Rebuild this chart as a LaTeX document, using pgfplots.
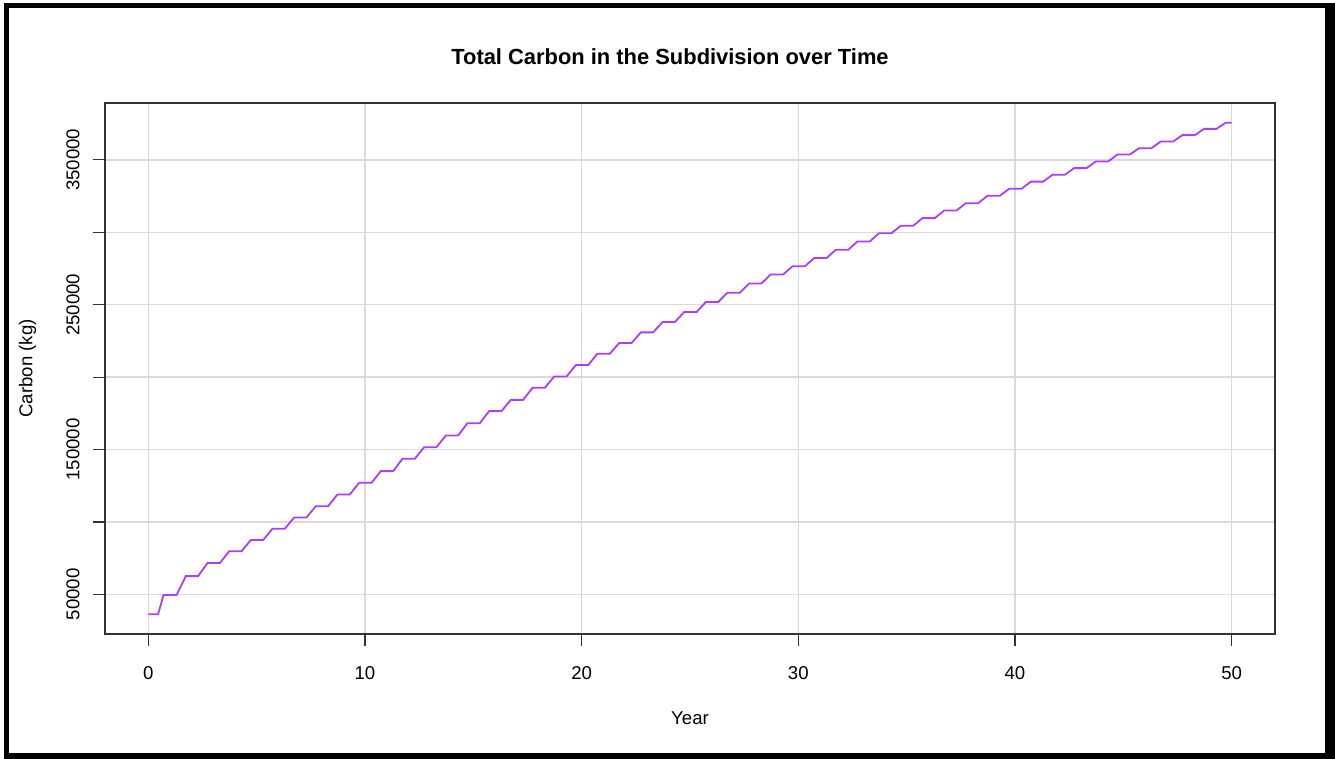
\documentclass[border=0pt]{standalone}
\usepackage{fontspec}
\setmainfont{Liberation Sans}
\usepackage{pgfplots}
\pgfplotsset{compat=1.18}
\definecolor{carbonline}{RGB}{172,62,245}
\definecolor{gridgray}{RGB}{218,218,218}

\begin{document}
\begin{tikzpicture}
% page 1335x759 px at 0.5pt per px
\path[use as bounding box] (0,0) rectangle (667.5pt,-379.5pt);
\fill[white] (0,0) rectangle (667.5pt,-379.5pt);
\fill[black] (2pt,-1.5pt) rectangle (667.5pt,-379.5pt);
\fill[white] (4.5pt,-4pt) rectangle (662.5pt,-376.5pt);

\begin{axis}[
  at={(52.5pt,-317pt)}, anchor=south west,
  scale only axis, width=585pt, height=265.5pt,
  xmin=-2, xmax=52, ymin=22620, ymax=389280,
  xtick={0,10,20,30,40,50}, xticklabels={0,10,20,30,40,50},
  ytick={50000,100000,150000,200000,250000,300000,350000},
  yticklabels={50000,{},150000,{},250000,{},350000},
  scaled y ticks=false,
  xtick pos=bottom, ytick pos=left,
  tick align=outside, major tick length=6pt,
  tick style={black!80, line width=0.6pt},
  axis line style={black!80, line width=0.6pt},
  grid=major, major grid style={gridgray, line width=0.7pt},
  ticklabel style={font=\fontsize{9.3}{11}\selectfont, inner sep=0pt},
  xticklabel style={anchor=north, yshift=-10.3pt},
  yticklabel style={rotate=90, anchor=south, yshift=6.5pt},
]
\addplot[carbonline, line width=0.9pt, no marks] coordinates {
(0,36200) (0.45,36200)
(0.70,49500) (1.30,49500)
(1.73,62600) (2.30,62600)
(2.73,71600) (3.30,71600)
(3.73,79700) (4.30,79700)
(4.73,87500) (5.30,87500)
(5.73,95300) (6.30,95300)
(6.73,103100) (7.30,103100)
(7.73,110900) (8.30,110900)
(8.73,119000) (9.30,119000)
(9.73,127000) (10.30,127000)
(10.73,135100) (11.30,135100)
(11.73,143600) (12.30,143600)
(12.73,151600) (13.30,151600)
(13.73,159700) (14.30,159700)
(14.73,168200) (15.30,168200)
(15.73,176500) (16.30,176500)
(16.73,184300) (17.30,184300)
(17.73,192600) (18.30,192600)
(18.73,200400) (19.30,200400)
(19.73,208300) (20.30,208300)
(20.73,216200) (21.30,216200)
(21.73,223500) (22.30,223500)
(22.73,230900) (23.30,230900)
(23.73,238000) (24.30,238000)
(24.73,244900) (25.30,244900)
(25.73,251800) (26.30,251800)
(26.73,258300) (27.30,258300)
(27.73,264700) (28.30,264700)
(28.73,270900) (29.30,270900)
(29.73,276500) (30.30,276500)
(30.73,282200) (31.30,282200)
(31.73,287900) (32.30,287900)
(32.73,293700) (33.30,293700)
(33.73,299400) (34.30,299400)
(34.73,304500) (35.30,304500)
(35.73,309800) (36.30,309800)
(36.73,315000) (37.30,315000)
(37.73,320100) (38.30,320100)
(38.73,325200) (39.30,325200)
(39.73,330000) (40.30,330000)
(40.73,335000) (41.30,335000)
(41.73,339700) (42.30,339700)
(42.73,344300) (43.30,344300)
(43.73,348900) (44.30,348900)
(44.73,353700) (45.30,353700)
(45.73,358100) (46.30,358100)
(46.73,362700) (47.30,362700)
(47.73,367100) (48.30,367100)
(48.73,371400) (49.30,371400)
(49.73,375700) (50,375700)
};
\end{axis}

\node[font=\bfseries\fontsize{10.95}{13}\selectfont] at (335pt,-28.3pt) {Total Carbon in the Subdivision over Time};
\node[font=\fontsize{9.3}{11}\selectfont] at (345pt,-359pt) {Year};
\node[font=\fontsize{9.3}{11}\selectfont, rotate=90] at (13.75pt,-184.25pt) {Carbon (kg)};
\end{tikzpicture}
\end{document}
